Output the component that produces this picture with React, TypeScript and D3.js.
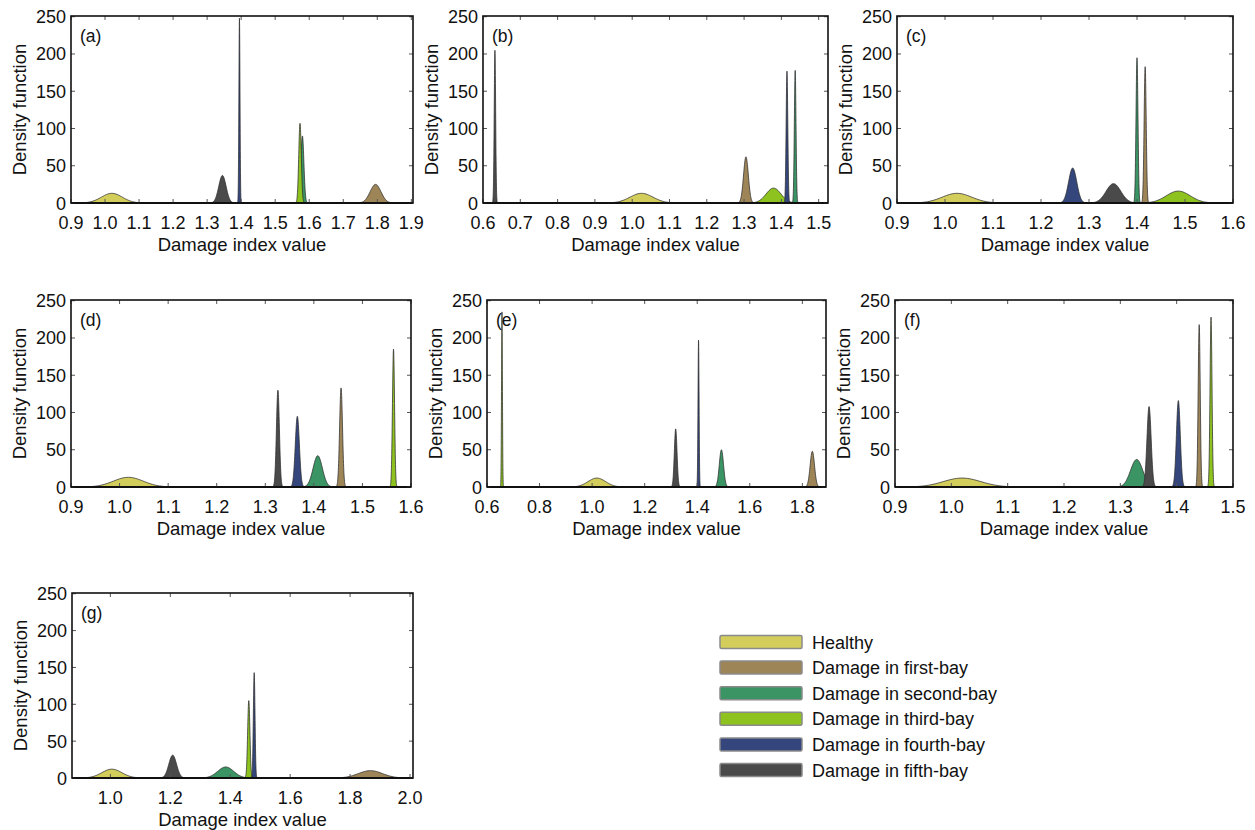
import React from 'react';
import * as d3 from 'd3';

// series (legend order)
const seriesNames = [
  'Healthy',
  'Damage in first-bay',
  'Damage in second-bay',
  'Damage in third-bay',
  'Damage in fourth-bay',
  'Damage in fifth-bay',
];
const seriesColors = ['#d3cd5c', '#9e8558', '#3a9464', '#8dc21f', '#34467c', '#4a4a4a'];

const panelLabels = ['(a)', '(b)', '(c)', '(d)', '(e)', '(f)', '(g)'];

const xDomains = [
  [0.9, 1.905],
  [0.6, 1.525],
  [0.9, 1.6],
  [0.9, 1.6],
  [0.6, 1.89],
  [0.9, 1.5],
  [0.872, 2.01],
];

const xTickLabels = [
  ['0.9', '1.0', '1.1', '1.2', '1.3', '1.4', '1.5', '1.6', '1.7', '1.8', '1.9'],
  ['0.6', '0.7', '0.8', '0.9', '1.0', '1.1', '1.2', '1.3', '1.4', '1.5'],
  ['0.9', '1.0', '1.1', '1.2', '1.3', '1.4', '1.5', '1.6'],
  ['0.9', '1.0', '1.1', '1.2', '1.3', '1.4', '1.5', '1.6'],
  ['0.6', '0.8', '1.0', '1.2', '1.4', '1.6', '1.8'],
  ['0.9', '1.0', '1.1', '1.2', '1.3', '1.4', '1.5'],
  ['1.0', '1.2', '1.4', '1.6', '1.8', '2.0'],
];

const yTickLabels = ['0', '50', '100', '150', '200', '250'];

// peak location of each density (rows = panels, cols = series)
const peakMeans = [
  [1.02, 1.795, 1.58, 1.573, 1.395, 1.345],
  [1.025, 1.305, 1.437, 1.379, 1.415, 0.632],
  [1.025, 1.417, 1.4, 1.486, 1.266, 1.351],
  [1.018, 1.456, 1.408, 1.564, 1.366, 1.326],
  [1.018, 1.838, 1.492, 0.657, 1.405, 1.318],
  [1.019, 1.44, 1.329, 1.461, 1.403, 1.351],
  [1.005, 1.868, 1.385, 1.462, 1.48, 1.208],
];

// peak density value of each curve
const peakHeights = [
  [13, 25, 90, 107, 248, 37],
  [13, 62, 178, 20, 177, 205],
  [13, 183, 195, 16, 47, 26],
  [13, 133, 42, 185, 95, 130],
  [12, 48, 50, 235, 197, 78],
  [12, 218, 37, 228, 116, 108],
  [12, 10, 15, 105, 143, 31],
];

// plot boxes [left, right, top, bottom]
const boxes = [
  [71, 413, 16, 203],
  [483, 828, 16, 203],
  [897, 1233, 16, 203],
  [71, 411, 300, 487],
  [487, 826, 300, 487],
  [895, 1233, 300, 487],
  [72, 413, 593, 778],
];

const font = '"Liberation Sans", Arial, sans-serif';

// normal density with unit area, width set by its peak height
function densityCurve(mean: number, peak: number, domain: number[]) {
  const sd = 1 / (peak * Math.sqrt(2 * Math.PI));
  const pts: [number, number][] = [[domain[0], 0]];
  d3.range(-5, 5.001, 0.1).forEach((k) => {
    const x = mean + k * sd;
    pts.push([x, peak * Math.exp(-0.5 * k * k)]);
  });
  pts.push([domain[1], 0]);
  return pts;
}

function Panel({ idx }: { idx: number }) {
  const [left, right, top, bottom] = boxes[idx];
  const domain = xDomains[idx];
  const x = d3.scaleLinear().domain(domain).range([left, right]);
  const y = d3.scaleLinear().domain([0, 251]).range([bottom, top]);
  const area = d3
    .area<[number, number]>()
    .x((d) => x(d[0]))
    .y0(y(0))
    .y1((d) => y(d[1]));
  const clipId = 'clip-' + idx;
  const ticksX = xTickLabels[idx].map(Number);
  const ticksY = yTickLabels.map(Number);

  return (
    <g>
      <defs>
        <clipPath id={clipId}>
          <rect x={left} y={top} width={right - left} height={bottom - top + 2} />
        </clipPath>
      </defs>
      <g clipPath={`url(#${clipId})`}>
        {seriesNames.map((name, s) => (
          <path
            key={name}
            d={area(densityCurve(peakMeans[idx][s], peakHeights[idx][s], domain)) || ''}
            fill={seriesColors[s]}
            stroke="#2e2e2e"
            strokeOpacity={0.75}
            strokeWidth={1}
          />
        ))}
      </g>
      <line x1={left} x2={right} y1={bottom} y2={bottom} stroke="#111" strokeWidth={2} />

      {/* inward ticks on all sides */}
      {ticksX.map((t, i) => (
        <g key={'xt' + i}>
          <line x1={x(t)} x2={x(t)} y1={bottom} y2={bottom - 4} stroke="#555" />
          <line x1={x(t)} x2={x(t)} y1={top} y2={top + 4} stroke="#555" />
          <text
            x={x(t)}
            y={bottom + 26}
            textAnchor="middle"
            fontSize={18}
            fontFamily={font}
            fill="#111"
          >
            {xTickLabels[idx][i]}
          </text>
        </g>
      ))}
      {ticksY.map((t, i) => (
        <g key={'yt' + i}>
          <line x1={left} x2={left + 4} y1={y(t)} y2={y(t)} stroke="#555" />
          <line x1={right} x2={right - 4} y1={y(t)} y2={y(t)} stroke="#555" />
          <text
            x={left - 5}
            y={y(t) + 6.5}
            textAnchor="end"
            fontSize={18}
            fontFamily={font}
            fill="#111"
          >
            {yTickLabels[i]}
          </text>
        </g>
      ))}

      <rect
        x={left}
        y={top}
        width={right - left}
        height={bottom - top}
        fill="none"
        stroke="#111"
        strokeWidth={1.6}
      />

      <text x={left + 9} y={top + 26} fontSize={17.5} fontFamily={font} fill="#111">
        {panelLabels[idx]}
      </text>
      <text
        x={(left + right) / 2}
        y={bottom + 48}
        textAnchor="middle"
        fontSize={18.5}
        fontFamily={font}
        fill="#111"
      >
        Damage index value
      </text>
      <text
        transform={`translate(${left - 45},${(top + bottom) / 2}) rotate(-90)`}
        textAnchor="middle"
        fontSize={18.5}
        fontFamily={font}
        fill="#111"
      >
        Density function
      </text>
    </g>
  );
}

function Legend() {
  const row = d3.scaleLinear().domain([0, seriesNames.length - 1]).range([642, 770]);
  return (
    <g>
      {seriesNames.map((name, i) => (
        <g key={name}>
          <rect
            x={720}
            y={row(i) - 6.5}
            width={82}
            height={13}
            rx={1.5}
            fill={seriesColors[i]}
            stroke="#8a8a8a"
            strokeWidth={1.5}
          />
          <text x={812} y={row(i) + 6.5} fontSize={18} fontFamily={font} fill="#111">
            {name}
          </text>
        </g>
      ))}
    </g>
  );
}

export default function App() {
  return (
    <div style={{ position: 'absolute', left: 0, top: 0 }}>
      <svg width={1255} height={830} style={{ display: 'block', background: '#fff' }}>
        {panelLabels.map((p, i) => (
          <Panel key={p} idx={i} />
        ))}
        <Legend />
      </svg>
    </div>
  );
}
